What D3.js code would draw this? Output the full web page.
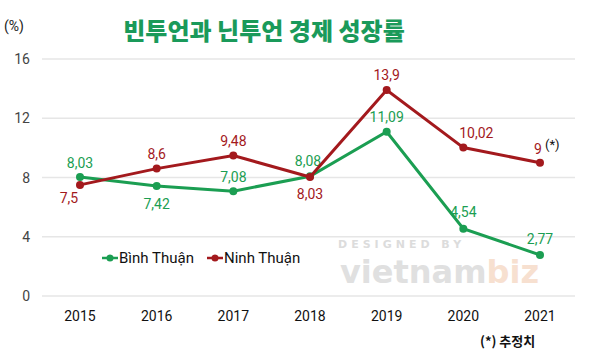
<!DOCTYPE html>
<html><head><meta charset="utf-8">
<script src="https://cdn.jsdelivr.net/npm/d3@7"></script>
<style>body{margin:0;background:#fff}svg{display:block}</style>
</head><body>
<svg id="c" width="600" height="357"></svg>
<script>
const years = ["2015","2016","2017","2018","2019","2020","2021"];
const binhThuan = [8.03, 7.42, 7.08, 8.08, 11.09, 4.54, 2.77];
const ninhThuan = [7.5, 8.6, 9.48, 8.03, 13.9, 10.02, 9];
const binhLabels = ["8,03","7,42","7,08","8,08","11,09","4,54","2,77"];
const ninhLabels = ["7,5","8,6","9,48","8,03","13,9","10,02","9"];
const yTicks = [0,4,8,12,16];
const seriesNames = ["Bình Thuận","Ninh Thuận"];
const title = "빈투언과 닌투언 경제 성장률";

const green = "#1b9e52", red = "#a3191d";
const svg = d3.select("#c");
const font = "'Liberation Sans Narrow','Roboto',sans-serif";
const x = d3.scalePoint().domain(years).range([80,540]);
const y = d3.scaleLinear().domain([0,16]).range([296,59]);

// grid
svg.append("g").selectAll("line").data(yTicks).join("line")
  .attr("x1",42).attr("x2",575).attr("y1",d=>y(d)).attr("y2",d=>y(d))
  .attr("stroke","#e6e6e6").attr("stroke-width",1.5);
svg.append("g").selectAll("text").data(yTicks).join("text")
  .attr("x",30).attr("y",d=>y(d)+5).attr("text-anchor","end")
  .attr("font-family",font).attr("font-size",14).attr("fill","#444").text(d=>d);
svg.append("g").selectAll("text").data(years).join("text")
  .attr("x",d=>x(d)).attr("y",321).attr("text-anchor","middle")
  .attr("font-family",font).attr("font-size",14).attr("fill","#111").text(d=>d);

svg.append("text").attr("x",4).attr("y",31).attr("font-family",font).attr("font-size",14).attr("fill","#222").text("(%)");
svg.append("text").attr("x",264).attr("y",40).attr("text-anchor","middle")
  .attr("font-family","'Noto Sans CJK KR',sans-serif").attr("font-weight",900).attr("font-size",24)
  .attr("fill","#1a9a5a").text(title);

// watermark
svg.append("text").attr("x",338).attr("y",248).attr("font-family","'DejaVu Sans',sans-serif").attr("font-size",11)
  .attr("letter-spacing",4).attr("fill","#dcdcdc").attr("font-weight","bold").text("DESIGNED BY");
const wm = svg.append("text").attr("x",340).attr("y",283).attr("font-family","'DejaVu Sans',sans-serif").attr("font-size",32).attr("font-weight","bold");
wm.append("tspan").attr("fill","#e0e0e0").text("vietnam");
wm.append("tspan").attr("fill","#f7e0d0").text("biz");

const line = d3.line().x((d,i)=>x(years[i])).y(d=>y(d));
function drawSeries(vals, color, labels, offsets){
  svg.append("path").datum(vals).attr("d",line).attr("fill","none").attr("stroke",color).attr("stroke-width",3);
  svg.append("g").selectAll("circle").data(vals).join("circle")
    .attr("cx",(d,i)=>x(years[i])).attr("cy",d=>y(d)).attr("r",4).attr("fill",color);
  svg.append("g").selectAll("text").data(vals).join("text")
    .attr("x",(d,i)=>x(years[i])+offsets[i][0]).attr("y",(d,i)=>y(d)+offsets[i][1])
    .attr("text-anchor","middle").attr("font-family",font).attr("font-size",14).attr("fill",color)
    .text((d,i)=>labels[i]);
}
drawSeries(binhThuan, green, binhLabels, [[0,-9],[0,23],[0,-9],[-2,-10],[0,-10],[0,-12],[0,-11]]);
drawSeries(ninhThuan, red, ninhLabels, [[-11,18],[0,-10],[0,-10],[0,22],[0,-10],[13,-10],[-2,-9]]);
svg.append("text").attr("x",545).attr("y",y(9)-14).attr("font-family",font).attr("font-size",13).attr("fill","#111").text("(*)");

// legend
const lg = [[102,green,seriesNames[0]],[207,red,seriesNames[1]]];
lg.forEach(([lx,c,t])=>{
  svg.append("line").attr("x1",lx).attr("x2",lx+16).attr("y1",258).attr("y2",258).attr("stroke",c).attr("stroke-width",2.5);
  svg.append("circle").attr("cx",lx+8).attr("cy",258).attr("r",3.5).attr("fill",c);
  svg.append("text").attr("x",lx+17).attr("y",263).attr("font-family",font).attr("font-size",15).attr("fill","#111").text(t);
});

svg.append("text").attr("x",480).attr("y",346).attr("font-family","'Noto Sans CJK KR',sans-serif").attr("font-size",13)
  .attr("font-weight","bold").attr("fill","#111").text("(*) 추정치");
</script>
</body></html>
